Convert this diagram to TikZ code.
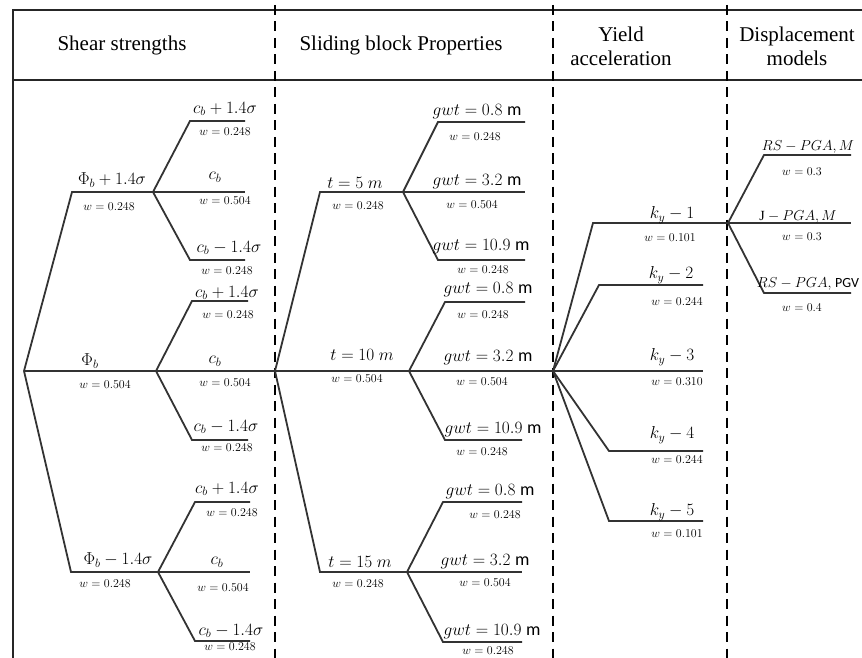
\documentclass[tikz,border=0pt]{standalone}
\usepackage{fontspec}
\setmainfont{Liberation Serif}
\newfontfamily\calib{Carlito}
\begin{document}
\begin{tikzpicture}[x=1pt,y=-1pt]
\definecolor{lc}{HTML}{333333}
\tikzset{
 br/.style={line width=1.8pt, draw=lc, line join=miter},
 lab/.style={inner sep=0pt, font=\fontsize{18}{20}\selectfont},
 wl/.style={inner sep=0pt, font=\fontsize{13}{15}\selectfont},
 sl/.style={inner sep=0pt, font=\fontsize{14}{16}\selectfont},
 hd/.style={inner sep=0pt, align=center, font=\fontsize{21}{24}\selectfont},
 frameline/.style={line width=2.6pt, draw=black!85},
 sepline/.style={line width=2.2pt, draw=black, dash pattern=on 10pt off 6.5pt},
}
\useasboundingbox (0,0) rectangle (862,658);
% frame
\coordinate (TL) at (13,10); \coordinate (TR) at (862,10);
\coordinate (HL) at (13,80); \coordinate (HR) at (862,80);
\coordinate (BL) at (13,658);
\draw[frameline] (TR) -- (TL) -- (BL);
\draw[frameline] (HL) -- (HR);
\coordinate (S1a) at (275,5); \coordinate (S1b) at (275,658);
\coordinate (S2a) at (553,5); \coordinate (S2b) at (553,658);
\coordinate (S3a) at (727,5); \coordinate (S3b) at (727,658);
\draw[sepline] (S1a) -- (S1b);
\draw[sepline] (S2a) -- (S2b);
\draw[sepline] (S3a) -- (S3b);
% headers
\node[hd] (h1) at (122,45) {Shear strengths};
\node[hd] (h2) at (401,45) {Sliding block Properties};
\node[hd] (h3) at (621,46) {Yield\\acceleration};
\node[hd] (h4) at (797,46) {Displacement\\models};

% ---------- tree 1 ----------
\coordinate (R1) at (24,371);
\coordinate (A1b) at (72,192); \coordinate (A1) at (153,192);
\coordinate (A2) at (156,371);
\coordinate (A3b) at (71,572); \coordinate (A3) at (158,572);
\draw[br] (R1) -- (A1b) -- (A1);
\draw[br] (R1) -- (A2);
\draw[br] (R1) -- (A3b) -- (A3);
% children A1
\coordinate (A1ub) at (190,121); \coordinate (A1u) at (245,121);
\coordinate (A1m) at (245,192);
\coordinate (A1db) at (190,260); \coordinate (A1d) at (245,260);
\draw[br] (A1) -- (A1ub) -- (A1u);
\draw[br] (A1) -- (A1m);
\draw[br] (A1) -- (A1db) -- (A1d);
% children A2
\coordinate (A2ub) at (192,301); \coordinate (A2u) at (248,301);
\coordinate (A2db) at (192,440); \coordinate (A2d) at (248,440);
\coordinate (R2) at (275,371);
\draw[br] (A2) -- (A2ub) -- (A2u);
\draw[br] (A2) -- (R2);
\draw[br] (A2) -- (A2db) -- (A2d);
% children A3
\coordinate (A3ub) at (195,502); \coordinate (A3u) at (250,502);
\coordinate (A3m) at (250,572);
\coordinate (A3db) at (195,641); \coordinate (A3d) at (250,641);
\draw[br] (A3) -- (A3ub) -- (A3u);
\draw[br] (A3) -- (A3m);
\draw[br] (A3) -- (A3db) -- (A3d);
% labels tree 1
\node[lab] (lA1) at (112,180) {$\Phi_b + 1.4\sigma$};
\node[wl] (wA1) at (109,207) {$w = 0.248$};
\node[lab] (lA2) at (90,361) {$\Phi_b$};
\node[wl] (wA2) at (105,385) {$w = 0.504$};
\node[lab] (lA3) at (118,560) {$\Phi_b - 1.4\sigma$};
\node[wl] (wA3) at (105,584) {$w = 0.248$};
\node[lab] (l11) at (225,109) {$c_b + 1.4\sigma$};
\node[wl] (w11) at (225,132) {$w = 0.248$};
\node[lab] (l12) at (215,177) {$c_b$};
\node[wl] (w12) at (225,201) {$w = 0.504$};
\node[lab] (l13) at (229,248) {$c_b - 1.4\sigma$};
\node[wl] (w13) at (227,271) {$w = 0.248$};
\node[lab] (l21) at (227,293) {$c_b + 1.4\sigma$};
\node[wl] (w21) at (228,315) {$w = 0.248$};
\node[lab] (l22) at (215,361) {$c_b$};
\node[wl] (w22) at (225,383) {$w = 0.504$};
\node[lab] (l23) at (226,427) {$c_b - 1.4\sigma$};
\node[wl] (w23) at (227,448) {$w = 0.248$};
\node[lab] (l31) at (227,489) {$c_b + 1.4\sigma$};
\node[wl] (w31) at (232,513) {$w = 0.248$};
\node[lab] (l32) at (217,562) {$c_b$};
\node[wl] (w32) at (223,588) {$w = 0.504$};
\node[lab] (l33) at (231,631) {$c_b - 1.4\sigma$};
\node[wl] (w33) at (230,647) {$w = 0.248$};

% ---------- tree 2 ----------
\coordinate (B1b) at (320,192); \coordinate (B1) at (403,192);
\coordinate (B2) at (409,371);
\coordinate (B3b) at (320,572); \coordinate (B3) at (407,572);
\draw[br] (R2) -- (B1b) -- (B1);
\draw[br] (R2) -- (B2);
\draw[br] (R2) -- (B3b) -- (B3);
\coordinate (B1ub) at (438,122); \coordinate (B1u) at (525,122);
\coordinate (B1m) at (525,192);
\coordinate (B1db) at (438,260); \coordinate (B1d) at (525,260);
\draw[br] (B1) -- (B1ub) -- (B1u);
\draw[br] (B1) -- (B1m);
\draw[br] (B1) -- (B1db) -- (B1d);
\coordinate (B2ub) at (445,302); \coordinate (B2u) at (525,302);
\coordinate (R3) at (553,371);
\coordinate (B2db) at (445,440); \coordinate (B2d) at (522,440);
\draw[br] (B2) -- (B2ub) -- (B2u);
\draw[br] (B2) -- (R3);
\draw[br] (B2) -- (B2db) -- (B2d);
\coordinate (B3ub) at (443,502); \coordinate (B3u) at (522,502);
\coordinate (B3m) at (522,572);
\coordinate (B3db) at (443,642); \coordinate (B3d) at (522,642);
\draw[br] (B3) -- (B3ub) -- (B3u);
\draw[br] (B3) -- (B3m);
\draw[br] (B3) -- (B3db) -- (B3d);
% labels tree 2
\node[lab] (lB1) at (355,183) {$t = 5\ m$};
\node[wl] (wB1) at (358,206) {$w = 0.248$};
\node[lab] (lB2) at (362,355) {$t = 10\ m$};
\node[wl] (wB2) at (357,379) {$w = 0.504$};
\node[lab] (lB3) at (360,562) {$t = 15\ m$};
\node[wl] (wB3) at (358,584) {$w = 0.248$};
\node[lab] (g11) at (477,112) {$gwt = 0.8$ {\calib m}};
\node[wl] (v11) at (475,137) {$w = 0.248$};
\node[lab] (g12) at (477,182) {$gwt = 3.2$ {\calib m}};
\node[wl] (v12) at (472,205) {$w = 0.504$};
\node[lab] (g13) at (481,247) {$gwt = 10.9$ {\calib m}};
\node[wl] (v13) at (483,270) {$w = 0.248$};
\node[lab] (g21) at (488,290) {$gwt = 0.8$ {\calib m}};
\node[wl] (v21) at (483,315) {$w = 0.248$};
\node[lab] (g22) at (488,358) {$gwt = 3.2$ {\calib m}};
\node[wl] (v22) at (482,382) {$w = 0.504$};
\node[lab] (g23) at (493,430) {$gwt = 10.9$ {\calib m}};
\node[wl] (v23) at (482,452) {$w = 0.248$};
\node[lab] (g31) at (490,492) {$gwt = 0.8$ {\calib m}};
\node[wl] (v31) at (495,515) {$w = 0.248$};
\node[lab] (g32) at (485,562) {$gwt = 3.2$ {\calib m}};
\node[wl] (v32) at (485,583) {$w = 0.504$};
\node[lab] (g33) at (492,632) {$gwt = 10.9$ {\calib m}};
\node[wl] (v33) at (488,651) {$w = 0.248$};

% ---------- tree 3 ----------
\coordinate (K1b) at (593,223); \coordinate (R4) at (728,223);
\coordinate (K2b) at (599,285); \coordinate (K2) at (703,285);
\coordinate (K3) at (703,371);
\coordinate (K4b) at (609,451); \coordinate (K4) at (703,451);
\coordinate (K5b) at (609,521); \coordinate (K5) at (703,521);
\draw[br] (R3) -- (K1b) -- (R4);
\draw[br] (R3) -- (K2b) -- (K2);
\draw[br] (R3) -- (K3);
\draw[br] (R3) -- (K4b) -- (K4);
\draw[br] (R3) -- (K5b) -- (K5);
\node[lab] (lk1) at (672,215) {$k_y - 1$};
\node[wl] (wk1) at (670,238) {$w = 0.101$};
\node[lab] (lk2) at (671,275) {$k_y - 2$};
\node[wl] (wk2) at (677,302) {$w = 0.244$};
\node[lab] (lk3) at (672,357) {$k_y - 3$};
\node[wl] (wk3) at (677,382) {$w = 0.310$};
\node[lab] (lk4) at (672,435) {$k_y - 4$};
\node[wl] (wk4) at (677,460) {$w = 0.244$};
\node[lab] (lk5) at (672,512) {$k_y - 5$};
\node[wl] (wk5) at (677,534) {$w = 0.101$};

% ---------- tree 4 ----------
\coordinate (D1b) at (764,155); \coordinate (D1) at (851,155);
\coordinate (D2) at (851,223);
\coordinate (D3b) at (764,293); \coordinate (D3) at (851,293);
\draw[br] (R4) -- (D1b) -- (D1);
\draw[br] (R4) -- (D2);
\draw[br] (R4) -- (D3b) -- (D3);
\node[sl] (ld1) at (808,147) {$RS - PGA, M$};
\node[wl] (wd1) at (802,172) {$w = 0.3$};
\node[sl] (ld2) at (798,217) {$\mathrm{J} - PGA, M$};
\node[wl] (wd2) at (802,237) {$w = 0.3$};
\node[sl] (ld3) at (808,284) {$RS - PGA,$ {\calib PGV}};
\node[wl] (wd3) at (802,308) {$w = 0.4$};
\end{tikzpicture}
\end{document}
